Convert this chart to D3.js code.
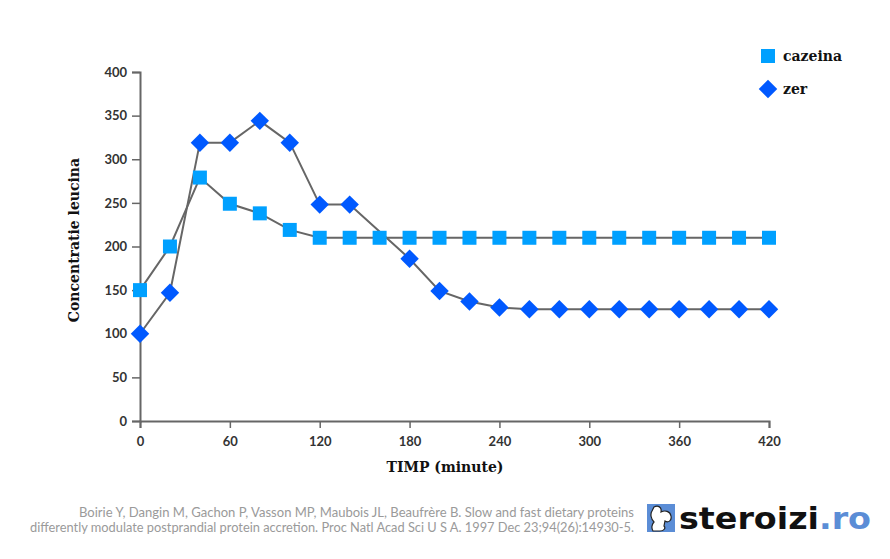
<!DOCTYPE html>
<html>
<head>
<meta charset="utf-8">
<script src="https://cdn.jsdelivr.net/npm/d3@7"></script>
<style>
  body { margin: 0; background: #fff; }
  .tick text { font-family: Lato, "Open Sans", sans-serif; font-weight: 700; font-size: 13px; fill: #333; }
</style>
</head>
<body>
<div id="chart"></div>
<script>
// data (zer has no marker at 160 min)
var minutes = d3.range(0, 421, 20);
var cazeina = [150, 200, 279, 249, 238, 219, 210, 210, 210, 210, 210, 210, 210, 210, 210, 210, 210, 210, 210, 210, 210, 210];
var zer = [100, 147, 319, 319, 344, 319, 248, 248, null, 186, 149, 137, 130, 128, 128, 128, 128, 128, 128, 128, 128, 128];
var xTicks = [0, 60, 120, 180, 240, 300, 360, 420];
var yTicks = [0, 50, 100, 150, 200, 250, 300, 350, 400];

var svgWidth = 890;
var svgHeight = 559;
var margin = { top: 72, left: 140 };
var width = 629;
var height = 349;

var svg = d3.select("#chart")
    .append("svg")
    .attr("width", svgWidth)
    .attr("height", svgHeight);

var chartGroup = svg.append("g")
    .attr("transform", `translate(${margin.left}, ${margin.top})`);

var x = d3.scaleLinear().domain([0, 420]).range([0, width]);
var y = d3.scaleLinear().domain([0, 400]).range([height, 0]);

// axes
var xAxis = chartGroup.append("g")
    .attr("transform", `translate(0, ${height})`)
    .call(d3.axisBottom(x).tickValues(xTicks).tickSize(7).tickPadding(6));
var yAxis = chartGroup.append("g")
    .call(d3.axisLeft(y).tickValues(yTicks).tickSize(8).tickPadding(5));

[xAxis, yAxis].forEach(function (a) {
    a.select(".domain").attr("stroke", "#666").attr("stroke-width", 2);
    a.selectAll(".tick line").attr("stroke", "#666").attr("stroke-width", 1.5);
});
xAxis.selectAll(".tick text").attr("dy", "0.9em");

// series
var line = d3.line()
    .x(d => x(d.t))
    .y(d => y(d.v));

function drawSeries(values, rotate, size, color) {
    var pts = values.map((v, i) => ({ t: minutes[i], v: v })).filter(d => d.v != null);
    chartGroup.append("path")
        .datum(pts)
        .attr("d", line)
        .attr("fill", "none")
        .attr("stroke", "#666")
        .attr("stroke-width", 2);
    chartGroup.selectAll(null)
        .data(pts)
        .enter()
        .append("path")
        .attr("d", d3.symbol().type(d3.symbolSquare).size(size))
        .attr("transform", d => `translate(${x(d.t)}, ${y(d.v)})` + (rotate ? " rotate(45)" : ""))
        .attr("fill", color);
}

drawSeries(zer, true, 170, "#0059ff");
drawSeries(cazeina, false, 196, "#00a0ff");

// axis titles
var serif = "'DejaVu Serif', 'Liberation Serif', serif";
svg.append("text")
    .attr("transform", "translate(79, 240) rotate(-90)")
    .attr("text-anchor", "middle")
    .style("font-family", serif)
    .style("font-weight", "bold")
    .style("font-size", "14px")
    .attr("fill", "#111")
    .text("Concentratie leucina");

svg.append("text")
    .attr("x", 445)
    .attr("y", 472)
    .attr("text-anchor", "middle")
    .style("font-family", serif)
    .style("font-weight", "bold")
    .style("font-size", "14px")
    .attr("fill", "#111")
    .text("TIMP (minute)");

// legend
var legend = svg.append("g").attr("transform", "translate(768, 0)");
legend.append("path")
    .attr("d", d3.symbol().type(d3.symbolSquare).size(196))
    .attr("transform", "translate(0, 56)")
    .attr("fill", "#00a0ff");
legend.append("path")
    .attr("d", d3.symbol().type(d3.symbolSquare).size(170))
    .attr("transform", "translate(0, 89) rotate(45)")
    .attr("fill", "#0059ff");
legend.selectAll("text")
    .data(["cazeina", "zer"])
    .enter()
    .append("text")
    .attr("x", 15)
    .attr("y", (d, i) => 61 + i * 33)
    .style("font-family", serif)
    .style("font-weight", "bold")
    .style("font-size", "14px")
    .attr("fill", "#111")
    .text(d => d);

// citation
var cite = ["Boirie Y, Dangin M, Gachon P, Vasson MP, Maubois JL, Beaufrère B. Slow and fast dietary proteins",
    "differently modulate postprandial protein accretion. Proc Natl Acad Sci U S A. 1997 Dec 23;94(26):14930-5."];
var citeLen = [555, 604];
svg.selectAll(".cite")
    .data(cite)
    .enter()
    .append("text")
    .attr("class", "cite")
    .attr("x", 634)
    .attr("y", (d, i) => 517 + i * 15)
    .attr("text-anchor", "end")
    .attr("textLength", (d, i) => citeLen[i])
    .attr("lengthAdjust", "spacingAndGlyphs")
    .style("font-family", "Lato, 'Open Sans', sans-serif")
    .style("font-size", "12.5px")
    .attr("fill", "#9a9a9a")
    .text(d => d);

// logo
var logo = svg.append("g").attr("transform", "translate(647, 504)");
logo.append("rect").attr("width", 28).attr("height", 28).attr("fill", "#5b8dd6");
logo.append("path")
    .attr("d", "M7,3 C11,1 15,3 14,8 C18,6 23,7 24,12 C25,17 21,19 18,17 L17,22 C19,24 17,27 13,27 L6,27 C4,24 5,20 7,18 C4,15 3,10 5,7 Z")
    .attr("fill", "#fff")
    .attr("stroke", "#222")
    .attr("stroke-width", 1.2);
var logoText = svg.append("text")
    .attr("x", 679)
    .attr("y", 529)
    .style("font-family", "'DejaVu Sans', Verdana, sans-serif")
    .style("font-weight", "bold")
    .style("font-size", "31px")
    .attr("textLength", 192)
    .attr("lengthAdjust", "spacingAndGlyphs");
logoText.append("tspan").attr("fill", "#111").text("steroizi");
logoText.append("tspan").attr("fill", "#5b8dd6").text(".ro");
</script>
</body>
</html>
